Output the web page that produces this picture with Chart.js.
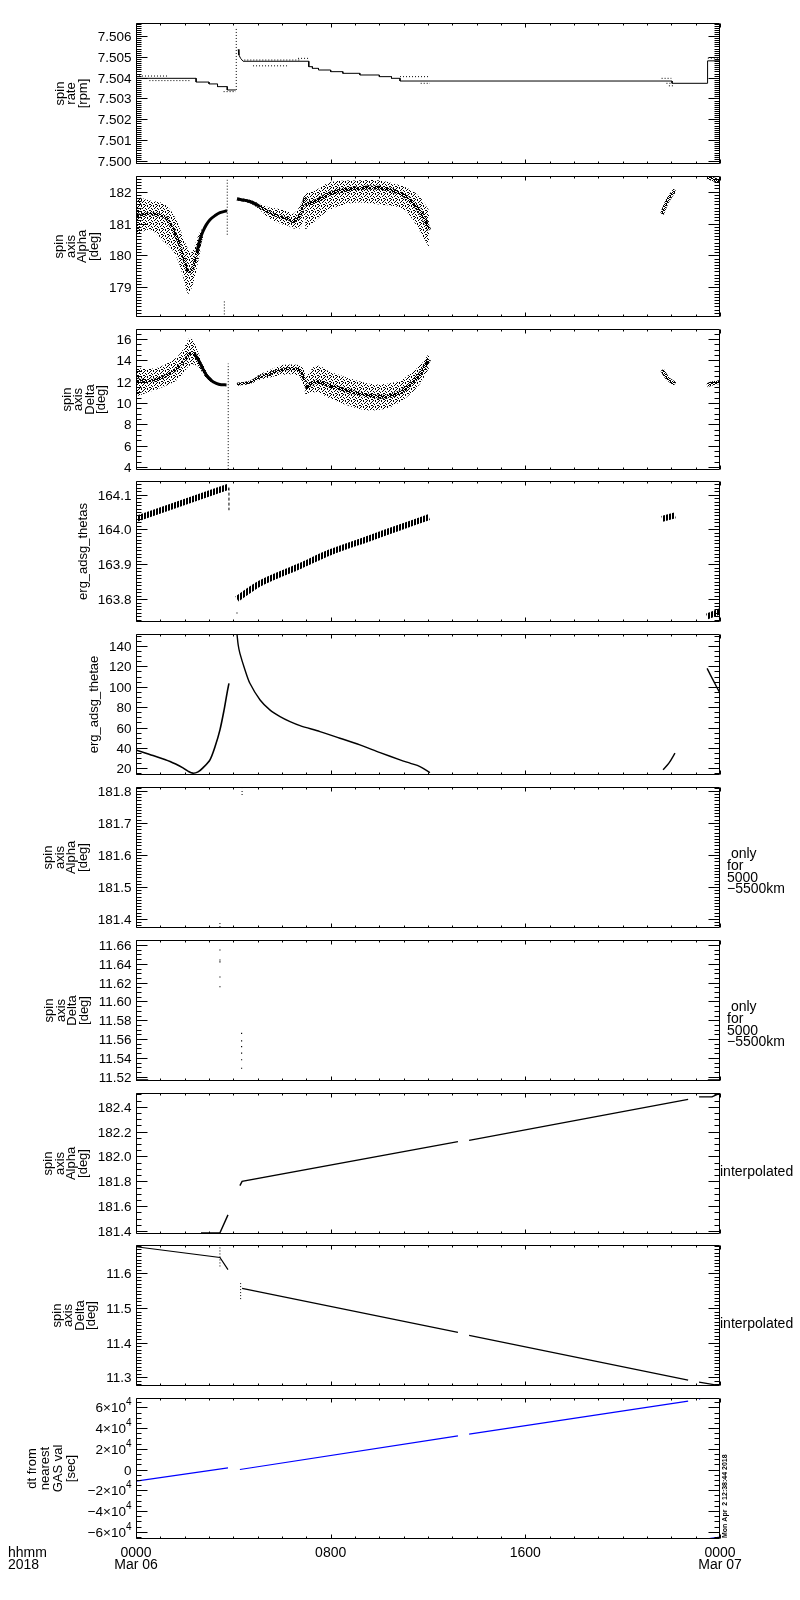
<!DOCTYPE html>
<html>
<head>
<meta charset="utf-8">
<script src="https://cdn.jsdelivr.net/npm/chart.js@4.4.1/dist/chart.umd.min.js"></script>
<style>
  html, body { margin: 0; padding: 0; background: #fff; }
  body { position: relative; width: 800px; height: 1600px; overflow: hidden; }
  canvas { position: absolute; left: 0; }
</style>
</head>
<body>
<script>
// time is in hours from 0000 Mar 06 (0..24)
const timeTicks = [0, 8, 16, 24];
const timeLabels = ["0000", "0800", "1600", "0000"];
const dateLabels = ["Mar 06", "", "", "Mar 07"];

// --- spin rate [rpm] ---
const rateMainA = [[0,7.50397],[2.47,7.50397],[2.47,7.50379],[3.0,7.50379],[3.0,7.5037],[3.35,7.5037],[3.35,7.50357],[3.75,7.50357],[3.75,7.50341],[4.1,7.50341]];
const rateSpike = [[4.12,7.50341],[4.12,7.50644]];
const rateMainB = [[4.2,7.50536],[4.23,7.50509],[4.3,7.50493],[4.4,7.50479],[7.1,7.50479],[7.1,7.50453],[7.25,7.50453],[7.25,7.50445],[7.5,7.50445],[7.5,7.50437],[8.0,7.50437],[8.0,7.50429],[8.5,7.50429],[8.5,7.50421],[9.2,7.50421],[9.2,7.50413],[10.0,7.50413],[10.0,7.50405],[10.5,7.50405],[10.5,7.50397],[10.85,7.50397],[10.85,7.50384],[22.03,7.50384],[22.03,7.50373],[23.47,7.50373],[23.49,7.50481],[24,7.50481]];
const rateDots = [[0,7.50408],[1.3,7.50408],null,[0.55,7.50386],[2.2,7.50386],null,[3.6,7.50333],[4.1,7.50333],null,
  [4.45,7.50485],[6.74,7.50485],null,[4.81,7.50457],[6.25,7.50457],null,[6.66,7.50493],[7.07,7.50493],null,
  [10.85,7.50405],[12.08,7.50405],null,[11.7,7.50373],[12.08,7.50373],null,[21.6,7.50397],[22.0,7.50397],null,
  [21.8,7.50373],[22.03,7.50373],null,[21.9,7.50361],[22.1,7.50361],null,[23.5,7.50494],[24,7.50494]];

// --- spin axis Alpha [deg] ---
const alphaHrsA = [0, 0.58, 1.19, 1.6, 1.93, 2.14, 2.3, 2.5, 2.7];
const alphaUpA  = [181.85, 181.72, 181.6, 181.2, 180.6, 180.2, 180.1, 180.5, 180.85];
const alphaLoA  = [180.65, 180.8, 180.4, 180.05, 179.35, 178.8, 179.0, 179.6, 180.35];
const alphaMidA = [181.25, 181.3, 181.2, 180.7, 180.0, 179.5, 179.55, 180.05, 180.6];
const alphaCoreA = [[2.5,180.1],[2.63,180.5],[2.75,180.75],[2.88,180.95],[3.04,181.12],[3.25,181.25],[3.45,181.34],[3.74,181.4]];
const alphaHrsC = [4.15, 4.68, 5.1, 5.5, 5.92, 6.33, 6.45, 6.74, 6.95];
const alphaUpC  = [181.8, 181.74, 181.62, 181.5, 181.45, 181.35, 181.3, 181.55, 182.0];
const alphaLoC  = [181.74, 181.64, 181.42, 181.15, 181.0, 180.9, 180.85, 180.85, 181.3];
const alphaMidC = [181.77, 181.69, 181.53, 181.33, 181.22, 181.12, 181.06, 181.27, 181.84];
const alphaCoreC = [[4.15,181.77],[4.68,181.69],[5.1,181.53]];
const alphaHrsD = [6.95, 7.4, 8.0, 9.0, 10.0, 10.85, 11.3, 11.7, 12.05];
const alphaUpD  = [181.95, 182.05, 182.3, 182.35, 182.35, 182.2, 182.05, 181.8, 181.4];
const alphaLoD  = [180.8, 181.1, 181.45, 181.65, 181.6, 181.5, 181.2, 180.7, 180.25];
const alphaMidD = [181.6, 181.7, 181.95, 182.1, 182.12, 181.95, 181.7, 181.35, 180.8];
const alphaShortE = [[21.62,181.3],[21.8,181.65],[22.0,181.9],[22.15,182.05]];
const alphaShortF = [[23.47,182.45],[24,182.32]];
const alphaSpikes = [[3.75,180.65],[3.75,182.37],null,[3.63,178.15],[3.63,178.57]];

// --- spin axis Delta [deg] ---
const deltaHrsA = [0, 0.5, 1.0, 1.5, 1.8, 2.0, 2.2, 2.35, 2.55, 2.75, 2.9, 3.1];
const deltaUpA  = [13.3, 13.2, 13.4, 14.0, 14.6, 15.3, 16.1, 15.8, 14.8, 13.6, 12.9, 12.2];
const deltaLoA  = [10.6, 11.0, 11.4, 11.9, 12.4, 13.0, 13.5, 13.6, 13.4, 12.8, 12.3, 12.0];
const deltaMidA = [12.2, 12.1, 12.3, 12.9, 13.5, 14.0, 14.6, 14.7, 14.1, 13.2, 12.6, 12.1];
const deltaCoreA = [[2.4,14.6],[2.55,14.1],[2.75,13.2],[2.9,12.6],[3.1,12.1],[3.3,11.85],[3.5,11.72],[3.72,11.7]];
const deltaHrsC = [4.15, 4.68, 5.1, 5.5, 5.92, 6.33, 6.74, 6.95];
const deltaUpC  = [11.85, 12.1, 12.7, 13.1, 13.5, 13.6, 13.5, 13.0];
const deltaLoC  = [11.65, 11.8, 12.2, 12.4, 12.6, 12.7, 12.4, 11.0];
const deltaMidC = [11.75, 11.94, 12.44, 12.76, 13.07, 13.23, 13.07, 12.0];
const deltaHrsD = [6.95, 7.4, 8.0, 8.8, 9.6, 10.3, 10.85, 11.3, 11.7, 12.05];
const deltaUpD  = [12.3, 13.5, 12.9, 12.3, 11.8, 11.8, 12.1, 12.8, 13.6, 14.7];
const deltaLoD  = [10.8, 11.0, 10.4, 9.7, 9.3, 9.5, 10.1, 10.9, 11.9, 13.3];
const deltaMidD = [11.4, 12.0, 11.6, 11.1, 10.7, 10.6, 11.0, 11.8, 12.8, 14.1];
const deltaShortE = [[21.62,13.1],[21.85,12.3],[22.15,11.8]];
const deltaShortF = [[23.47,11.65],[23.7,11.85],[24,11.97]];
const deltaSpike = [[3.79,3.8],[3.79,13.7]];

// --- erg_adsg_thetas ---
const thetasA = [[0,164.03],[3.78,164.122]];
const thetasDrop = [[3.82,164.12],[3.82,164.055]];
const thetasB = [[4.15,163.80],[5.1,163.845],[6.74,163.895],[7.97,163.934],[9.62,163.975],[10.85,164.006],[12.04,164.035]];
const thetasDot = [[4.15,163.76]];
const thetasE = [[21.62,164.03],[22.15,164.04]];
const thetasF = [[23.47,163.75],[24,163.765]];

// --- erg_adsg_thetae ---
const thetaeA = [[0,38],[0.7,32.5],[1.4,26.6],[1.93,20.4],[2.15,17],[2.34,15.2],[2.55,16.5],[2.75,20.4],[3.04,28.3],[3.25,41.3],[3.45,57.7],[3.62,77.3],[3.74,93.6],[3.82,103.4]];
const thetaeB = [[4.15,151.8],[4.2,141],[4.27,132.8],[4.48,116.5],[4.68,103.4],[5.1,87],[5.5,77.3],[5.92,70.7],[6.33,65.8],[6.74,61.9],[7.56,56],[8.38,49.5],[9.2,43],[10.03,35.4],[10.85,28.3],[11.26,25],[11.67,21.7],[12.08,15.8]];
const thetaeE = [[21.66,18.5],[21.9,25],[22.15,34.9]];
const thetaeF = [[23.47,118],[23.75,105],[24,93.6]];

// --- only for 5000-5500km ---
const alphaOnly = [[3.45,181.375],[3.45,181.392],null,[4.36,181.787],[4.36,181.806]];
const deltaOnly = [[3.45,11.6547],[3.45,11.644],[3.45,11.642],[3.45,11.626],[3.45,11.6156],[4.34,11.566],[4.34,11.558],[4.34,11.552],[4.34,11.545],[4.34,11.538],[4.34,11.529]];
const deltaOnlyEdge = [[0,11.5157],[0.5,11.5157],null,[23.5,11.5157],[24,11.5157]];

// --- interpolated ---
const interpAlpha = [[2.67,181.385],[3.45,181.385],[3.78,181.53],null,[4.27,181.765],[4.36,181.80],[13.23,182.12],null,[13.69,182.13],[22.69,182.46],null,[23.14,182.48],[23.67,182.48],[24,182.51]];
const interpDelta = [[0,11.677],[3.45,11.646],[3.78,11.611],null,[4.36,11.557],[13.23,11.43],null,[13.69,11.421],[22.69,11.292],null,[23.14,11.286],[23.8,11.278]];
const interpDeltaDots = [[3.45,11.675],[3.45,11.62],null,[4.3,11.572],[4.3,11.523]];

// --- dt from nearest GAS val [sec] ---
const dtSecs = [[0,-11300],[3.78,1550],null,[4.27,0],[13.23,32470],null,[13.69,34100],[22.69,66000],null,[23.26,-67600],[24,-65100]];
const dtDot = [[23.16,68000]];

// ---------------------------------------------------------------
const FONT = '"Liberation Sans", Arial, sans-serif';

function makePattern(w, h, cells) {
  const c = document.createElement("canvas");
  c.width = w; c.height = h;
  const g = c.getContext("2d");
  g.fillStyle = "#000";
  cells.forEach(([x, y]) => g.fillRect(x, y, 1, 1));
  return g.createPattern(c, "repeat");
}
// dot textures for the scattered (psym=3) clouds and the hatched trace
const speckle = makePattern(6, 6, [[0,0],[3,0],[5,1],[1,2],[4,2],[2,3],[0,4],[5,4],[3,5],[1,5]]);
const dense = makePattern(4, 4, [[0,0],[2,0],[1,1],[3,1],[0,2],[3,2],[1,3],[2,3],[2,1]]);
const stripes = makePattern(3, 1, [[0,0],[1,0]]);

function P(arr) {
  return arr.map((p, i) => p ? { x: p[0], y: p[1] } : { x: arr[i - 1][0], y: null });
}
function Z(hrs, vals) {
  return hrs.map((h, i) => ({ x: h, y: vals[i] }));
}
const line = (data, o = {}) => Object.assign({
  data, borderColor: "#000", borderWidth: 1, pointRadius: 0, tension: 0, fill: false, clip: 0
}, o);
const dotted = (data, o = {}) => line(data, Object.assign({ borderDash: [1, 2] }, o));
const points = (data, o = {}) => line(data, Object.assign({
  showLine: false, pointRadius: 0.8, pointStyle: "rect", pointBackgroundColor: "#000", pointBorderColor: "#000", pointBorderWidth: 0
}, o));
const band = (hrs, up, lo) => [
  line(Z(hrs, up), { borderColor: "rgba(0,0,0,0)", fill: "+1", backgroundColor: speckle, tension: 0.35 }),
  line(Z(hrs, lo), { borderColor: "rgba(0,0,0,0)", tension: 0.35 })
];
const fixed = d => v => v.toFixed(d);

const panels = [
  { min: 7.49985, max: 7.50663, major: 0.001, minor: 0.0001, fmt: fixed(3), title: ["spin", "rate", "[rpm]"],
    datasets: [line(P(rateMainA)), dotted(P(rateSpike)), line(P(rateMainB)), dotted(P(rateDots))] },
  { min: 178.07, max: 182.49, major: 1, minor: 0.1, fmt: fixed(0), title: ["spin", "axis", "Alpha", "[deg]"],
    datasets: [
      ...band(alphaHrsA, alphaUpA, alphaLoA), line(Z(alphaHrsA, alphaMidA), { borderWidth: 3, borderColor: dense, tension: 0.35 }),
      line(P(alphaCoreA), { borderWidth: 3, tension: 0.35 }),
      ...band(alphaHrsC, alphaUpC, alphaLoC), line(Z(alphaHrsC, alphaMidC), { borderWidth: 3, borderColor: dense, tension: 0.35 }),
      line(P(alphaCoreC), { borderWidth: 3, tension: 0.35 }),
      ...band(alphaHrsD, alphaUpD, alphaLoD), line(Z(alphaHrsD, alphaMidD), { borderWidth: 4, borderColor: dense, tension: 0.35 }),
      line(P(alphaShortE), { borderWidth: 4, borderColor: dense, tension: 0.3 }),
      line(P(alphaShortF), { borderWidth: 4, borderColor: dense }),
      dotted(P(alphaSpikes))
    ] },
  { min: 3.72, max: 16.94, major: 2, minor: 0.5, fmt: fixed(0), title: ["spin", "axis", "Delta", "[deg]"],
    datasets: [
      ...band(deltaHrsA, deltaUpA, deltaLoA), line(Z(deltaHrsA, deltaMidA), { borderWidth: 3, borderColor: dense, tension: 0.35 }),
      line(P(deltaCoreA), { borderWidth: 3, tension: 0.35 }),
      ...band(deltaHrsC, deltaUpC, deltaLoC), line(Z(deltaHrsC, deltaMidC), { borderWidth: 3, borderColor: dense, tension: 0.35 }),
      ...band(deltaHrsD, deltaUpD, deltaLoD), line(Z(deltaHrsD, deltaMidD), { borderWidth: 4, borderColor: dense, tension: 0.35 }),
      line(P(deltaShortE), { borderWidth: 4, borderColor: dense, tension: 0.3 }),
      line(P(deltaShortF), { borderWidth: 4, borderColor: dense, tension: 0.3 }),
      dotted(P(deltaSpike))
    ] },
  { min: 163.734, max: 164.139, major: 0.1, minor: 0.01, fmt: fixed(1), title: ["erg_adsg_thetas"],
    datasets: [
      line(P(thetasA), { borderWidth: 6, borderColor: stripes }), dotted(P(thetasDrop), { borderDash: [3, 2] }),
      line(P(thetasB), { borderWidth: 6, borderColor: stripes, tension: 0.3 }), points(P(thetasDot)),
      line(P(thetasE), { borderWidth: 6, borderColor: stripes }), line(P(thetasF), { borderWidth: 6, borderColor: stripes })
    ] },
  { min: 13.4, max: 151.8, major: 20, minor: 5, fmt: fixed(0), title: ["erg_adsg_thetae"],
    datasets: [
      line(P(thetaeA), { borderWidth: 1.6, tension: 0.3 }), line(P(thetaeB), { borderWidth: 1.4, tension: 0.3 }),
      line(P(thetaeE), { borderWidth: 1.4, tension: 0.3 }), line(P(thetaeF), { borderWidth: 1.4, tension: 0.3 })
    ] },
  { min: 181.372, max: 181.812, major: 0.1, minor: 0.01, fmt: fixed(1), title: ["spin", "axis", "Alpha", "[deg]"],
    note: [" only", "for", "5000", "\u22125500km"], noteDy: -3,
    datasets: [dotted(P(alphaOnly))] },
  { min: 11.5154, max: 11.6653, major: 0.02, minor: 0.005, fmt: fixed(2), title: ["spin", "axis", "Delta", "[deg]"],
    note: [" only", "for", "5000", "\u22125500km"], noteDy: -3,
    datasets: [points(P(deltaOnly)), line(P(deltaOnlyEdge), { borderWidth: 3 })] },
  { min: 181.376, max: 182.511, major: 0.2, minor: 0.05, fmt: fixed(1), title: ["spin", "axis", "Alpha", "[deg]"],
    note: ["interpolated"], noteDy: 8.5, noteX: 720,
    datasets: [line(P(interpAlpha), { borderWidth: 1.4 })] },
  { min: 11.275, max: 11.682, major: 0.1, minor: 0.01, fmt: fixed(1), title: ["spin", "axis", "Delta", "[deg]"],
    note: ["interpolated"], noteDy: 8.5, noteX: 720,
    datasets: [line(P(interpDelta), { borderWidth: 1.2 }), dotted(P(interpDeltaDots))] },
  { min: -67050, max: 69000, major: 20000, minor: 5000, sci: true, title: ["dt from", "nearest", "GAS val", "[sec]"],
    lineGap: 13, stamp: "Mon Apr  2 12:38:44 2018", times: true,
    datasets: [line(P(dtSecs), { borderColor: "#0000ff", borderWidth: 1.2 }), points(P(dtDot), { pointBackgroundColor: "#0000ff", pointBorderColor: "#0000ff" })] }
];

function drawLabel(ctx, cfg, v, x, y) {
  if (!cfg.sci) { ctx.fillText(cfg.fmt(v), x, y); return; }
  if (Math.abs(v) < 1e-9) { ctx.fillText("0", x, y); return; }
  const m = v / 1e4;
  const base = (m < 0 ? "\u2212" : "") + Math.abs(m) + "\u00d710";
  ctx.save();
  ctx.font = "10px " + FONT;
  const sw = ctx.measureText("4").width;
  ctx.fillText("4", x, y - 6);
  ctx.restore();
  ctx.fillText(base, x - sw, y);
}
function labelWidth(ctx, cfg, v) {
  if (!cfg.sci) return ctx.measureText(cfg.fmt(v)).width;
  if (Math.abs(v) < 1e-9) return ctx.measureText("0").width;
  const m = v / 1e4;
  return ctx.measureText((m < 0 ? "\u2212" : "") + Math.abs(m) + "\u00d710").width + 6;
}

// IDL-style box: inward ticks on all four sides, labels left, title rotated
function idlAxes(cfg) {
  return {
    id: "idlAxes",
    afterDraw(chart) {
      const { ctx, chartArea: a } = chart;
      const xs = chart.scales.x, ys = chart.scales.y;
      const L = Math.round(a.left) + 0.5, R = Math.round(a.right) - 0.5;
      const T = Math.round(a.top) + 0.5, B = Math.round(a.bottom) - 0.5;
      ctx.save();
      ctx.strokeStyle = "#000"; ctx.fillStyle = "#000"; ctx.lineWidth = 1;
      ctx.beginPath();
      ctx.rect(L, T, R - L, B - T);
      for (let h = 0; h <= 24; h++) {
        const px = Math.round(xs.getPixelForValue(h)) + 0.5;
        const len = h % 8 === 0 ? 4 : 2;
        ctx.moveTo(px, B); ctx.lineTo(px, B - len);
        ctx.moveTo(px, T); ctx.lineTo(px, T + len);
      }
      const k0 = Math.ceil(cfg.min / cfg.minor - 1e-6), k1 = Math.floor(cfg.max / cfg.minor + 1e-6);
      const ratio = Math.round(cfg.major / cfg.minor);
      const majors = [];
      for (let k = k0; k <= k1; k++) {
        const v = k * cfg.minor;
        const py = Math.round(ys.getPixelForValue(v)) + 0.5;
        const maj = k % ratio === 0;
        const len = maj ? 11 : 5;
        ctx.moveTo(L, py); ctx.lineTo(L + len, py);
        ctx.moveTo(R, py); ctx.lineTo(R - len, py);
        if (maj) majors.push([v, py]);
      }
      ctx.stroke();

      ctx.font = "13.5px " + FONT;
      ctx.textAlign = "right"; ctx.textBaseline = "middle";
      let maxW = 0;
      majors.forEach(([v, py]) => {
        drawLabel(ctx, cfg, v, L - 5, py + 0.5);
        maxW = Math.max(maxW, labelWidth(ctx, cfg, v));
      });

      const lh = cfg.lineGap || 11.5;
      const n = cfg.title.length;
      const right = L - 5 - maxW - 9;
      const cx = right - n * lh / 2;
      const cy = (a.top + a.bottom) / 2;
      ctx.save();
      ctx.translate(cx, cy);
      ctx.rotate(-Math.PI / 2);
      ctx.font = "13px " + FONT;
      ctx.textAlign = "center";
      cfg.title.forEach((t, i) => ctx.fillText(t, 0, (i - (n - 1) / 2) * lh));
      ctx.restore();

      if (cfg.note) {
        ctx.font = "14px " + FONT;
        ctx.textAlign = "left";
        const nx = cfg.noteX || 727;
        cfg.note.forEach((t, i) => ctx.fillText(t, nx, cy + cfg.noteDy + i * 11.7));
      }

      if (cfg.times) {
        ctx.font = "14px " + FONT;
        ctx.textAlign = "center";
        timeTicks.forEach((h, i) => {
          const px = xs.getPixelForValue(h);
          ctx.fillText(timeLabels[i], px, a.bottom + 14);
          if (dateLabels[i]) ctx.fillText(dateLabels[i], px, a.bottom + 26);
        });
        ctx.textAlign = "left";
        ctx.fillText("hhmm", 8, a.bottom + 14);
        ctx.fillText("2018", 8, a.bottom + 26);
      }
      if (cfg.stamp) {
        ctx.save();
        ctx.translate(725.5, a.bottom - 1);
        ctx.rotate(-Math.PI / 2);
        ctx.font = "bold 7px " + FONT;
        ctx.textAlign = "left";
        ctx.fillText(cfg.stamp, 0, 0);
        ctx.restore();
      }
      ctx.restore();
    }
  };
}

const PAD = 12, PANEL_H = 141;
panels.forEach((cfg, i) => {
  const top = Math.round(23 + i * 152.8);
  const padB = cfg.times ? 40 : PAD;
  const cv = document.createElement("canvas");
  cv.width = 800;
  cv.height = PANEL_H + PAD + padB;
  cv.style.top = (top - PAD) + "px";
  cv.style.width = "800px";
  cv.style.height = cv.height + "px";
  document.body.appendChild(cv);
  new Chart(cv.getContext("2d"), {
    type: "line",
    data: { datasets: cfg.datasets },
    options: {
      responsive: false,
      animation: false,
      devicePixelRatio: 1,
      events: [],
      layout: { padding: { left: 136, right: 80, top: PAD, bottom: padB } },
      scales: {
        x: { type: "linear", min: 0, max: 24, display: false },
        y: { type: "linear", min: cfg.min, max: cfg.max, display: false }
      },
      plugins: { legend: { display: false }, tooltip: { enabled: false } }
    },
    plugins: [idlAxes(cfg)]
  });
});
</script>
</body>
</html>
